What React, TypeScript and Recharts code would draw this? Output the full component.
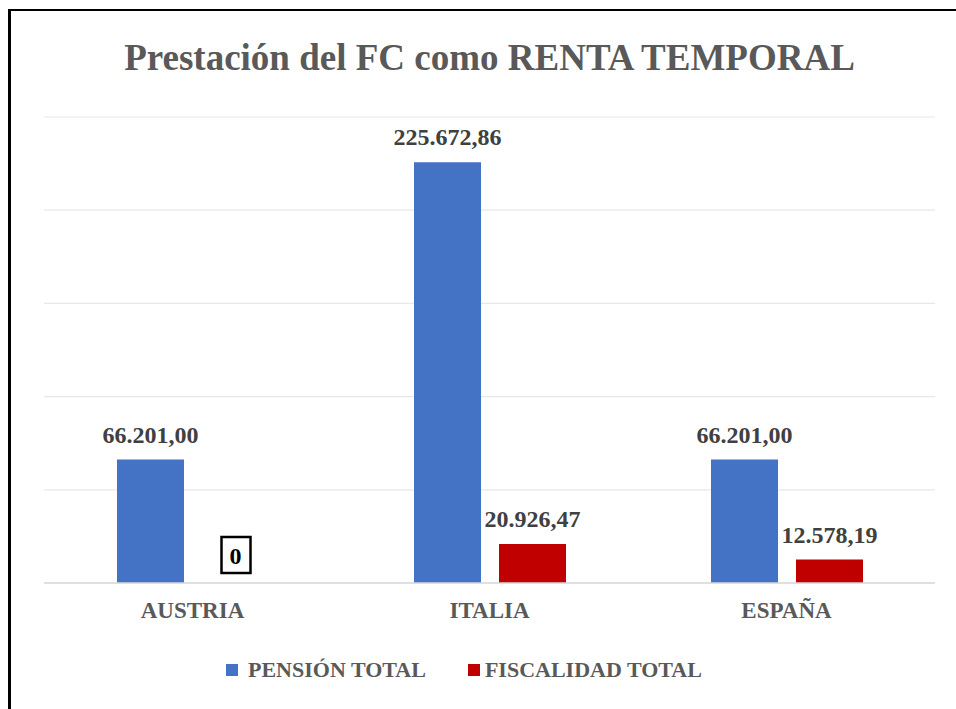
import React from 'react';
import { BarChart, Bar, XAxis, YAxis, CartesianGrid, LabelList, Cell } from 'recharts';

const countries = ['AUSTRIA', 'ITALIA', 'ESPAÑA'];
const pensionTotal = [66201.0, 225672.86, 66201.0];
const fiscalidadTotal = [0, 20926.47, 12578.19];
const yTicks = [0, 50000, 100000, 150000, 200000, 250000];

const data = countries.map((country, i) => ({
  country,
  pension: pensionTotal[i],
  fiscalidad: fiscalidadTotal[i],
}));

const FONT = '"Liberation Serif", "Times New Roman", serif';

const fmt = (v: number) => {
  if (v === 0) return '0';
  const [int, dec] = v.toFixed(2).split('.');
  return int.replace(/\B(?=(\d{3})+(?!\d))/g, '.') + ',' + dec;
};

const renderLabel = (props: any) => {
  const { x, y, width, height, value } = props;
  const cx = x + width / 2;
  const text = fmt(value);
  if (value === 0) {
    // zero bar: boxed label sitting on the baseline
    const base = y + height;
    return (
      <g>
        <rect x={cx - 14} y={base - 46} width={29} height={36} fill="#fff" stroke="#000" strokeWidth={2.5} />
        <text x={cx} y={base - 19} textAnchor="middle" fontSize={24} fontWeight="bold" fontFamily={FONT} fill="#000">
          {text}
        </text>
      </g>
    );
  }
  return (
    <text x={cx} y={y - 17} textAnchor="middle" fontSize={24} fontWeight="bold" fontFamily={FONT} fill="#404040">
      {text}
    </text>
  );
};

export default function App() {
  return (
    <div style={{ position: 'absolute', left: 0, top: 0, width: 956, height: 709, overflow: 'hidden', background: '#fff' }}>
      <div
        style={{
          position: 'absolute',
          left: 8,
          top: 9,
          width: 1000,
          height: 800,
          borderLeft: '3px solid #000',
          borderTop: '2px solid #000',
        }}
      />
      <div
        style={{
          position: 'absolute',
          left: 0,
          top: 39,
          width: 979,
          textAlign: 'center',
          fontFamily: FONT,
          fontWeight: 'bold',
          fontSize: 37,
          lineHeight: '37px',
          color: '#595959',
          whiteSpace: 'nowrap',
        }}
      >
        Prestación del FC como RENTA TEMPORAL
      </div>
      <div style={{ position: 'absolute', left: 0, top: 0 }}>
        <BarChart
          width={956}
          height={709}
          data={data}
          margin={{ top: 117, right: 21, left: 44, bottom: 96 }}
          barGap={18}
          barSize={67}
        >
          <CartesianGrid vertical={false} stroke="#e8e8e8" strokeWidth={1.2} />
          <YAxis hide domain={[0, 250000]} ticks={yTicks} />
          <XAxis
            dataKey="country"
            stroke="#d9d9d9"
            strokeWidth={1.5}
            tickLine={false}
            tickSize={6}
            tickMargin={13}
            tick={{ fontSize: 23, fontWeight: 'bold', fill: '#595959', fontFamily: FONT }}
          />
          <Bar dataKey="pension" fill="#4472C4" isAnimationActive={false}>
            <LabelList dataKey="pension" content={renderLabel} />
          </Bar>
          <Bar
            dataKey="fiscalidad"
            fill="#C00000"
            isAnimationActive={false}
            minPointSize={(v: number) => (v === 0 ? 1 : 0)}
          >
            {fiscalidadTotal.map((v, i) => (
              <Cell key={i} fill={v === 0 ? 'transparent' : '#C00000'} />
            ))}
            <LabelList dataKey="fiscalidad" content={renderLabel} />
          </Bar>
        </BarChart>
      </div>
      <div
        style={{
          position: 'absolute',
          left: 226,
          top: 659,
          height: 22,
          display: 'flex',
          alignItems: 'center',
          fontFamily: FONT,
          fontWeight: 'bold',
          fontSize: 22,
          lineHeight: '22px',
          color: '#595959',
          whiteSpace: 'nowrap',
        }}
      >
        <span style={{ width: 12, height: 12, background: '#4472C4', marginRight: 10, display: 'inline-block' }} />
        <span style={{ marginRight: 42 }}>PENSIÓN TOTAL</span>
        <span style={{ width: 12, height: 12, background: '#C00000', marginRight: 5, display: 'inline-block' }} />
        <span>FISCALIDAD TOTAL</span>
      </div>
    </div>
  );
}
